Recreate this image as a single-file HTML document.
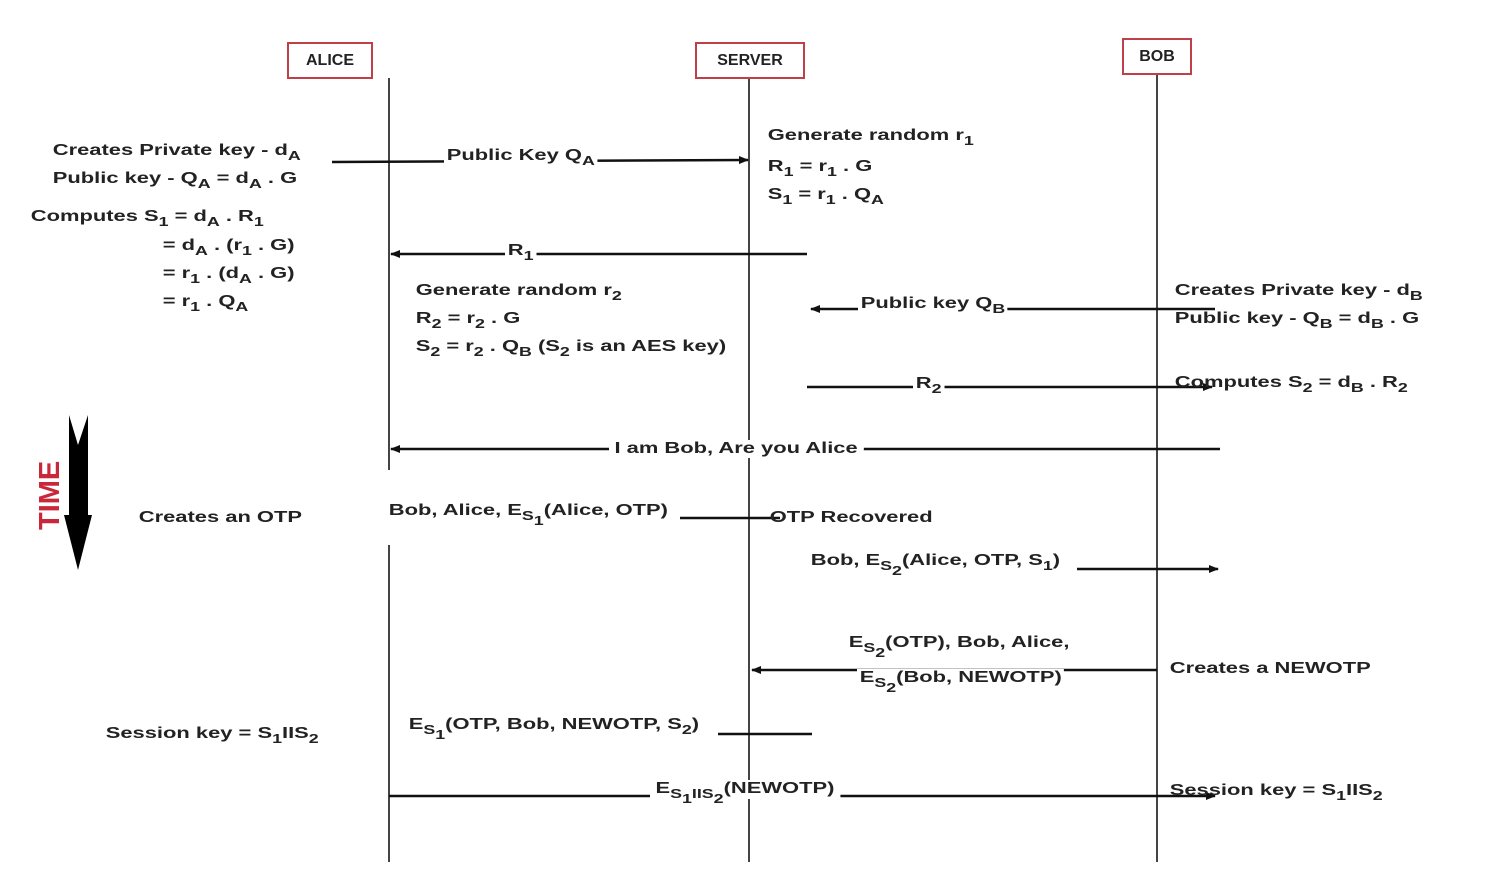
<!DOCTYPE html>
<html><head><meta charset="utf-8"><style>
body{margin:0;background:#fff;}
#c{position:relative;width:1493px;height:876px;overflow:hidden;font-family:"Liberation Sans",sans-serif;font-weight:bold;font-size:16px;color:#222;}
.t{position:absolute;white-space:nowrap;line-height:18px;background:#fff;padding:0 2px;transform:scaleX(1.37);transform-origin:0 0;}
.t sub{font-size:13px;vertical-align:-5px;line-height:0;}
.box{position:absolute;border:2px solid #c0404a;background:#fff;text-align:center;font-size:16px;}
</style></head><body><div id="c">
<svg width="1493" height="876" style="position:absolute;left:0;top:0">
<defs><marker id="a" markerWidth="10" markerHeight="8" refX="9" refY="4" orient="auto" markerUnits="userSpaceOnUse"><path d="M0,0 L10,4 L0,8 Z" fill="#111"/></marker></defs>
<g stroke="#444" stroke-width="2">
<line x1="389" y1="78" x2="389" y2="862"/>
<line x1="749" y1="78" x2="749" y2="862"/>
<line x1="1157" y1="75" x2="1157" y2="862"/>
</g>
<g stroke="#111" stroke-width="2.5" fill="none">
<line x1="332" y1="162" x2="748" y2="160" marker-end="url(#a)"/>
<line x1="807" y1="254" x2="391" y2="254" marker-end="url(#a)"/>
<line x1="1215" y1="309" x2="811" y2="309" marker-end="url(#a)"/>
<line x1="807" y1="387" x2="1212" y2="387" marker-end="url(#a)"/>
<line x1="1220" y1="449" x2="391" y2="449" marker-end="url(#a)"/>
<line x1="680" y1="518" x2="780" y2="518"/>
<line x1="1077" y1="569" x2="1218" y2="569" marker-end="url(#a)"/>
<line x1="1157" y1="670" x2="752" y2="670" marker-end="url(#a)"/>
<line x1="718" y1="734" x2="812" y2="734"/>
<line x1="389" y1="796" x2="1215" y2="796" marker-end="url(#a)"/>
</g>
<path d="M69,415 L78,445 L88,415 L88,515 L92,515 L78,570 L64,515 L69,515 Z" fill="#000"/>
<text transform="translate(59,530) rotate(-90)" font-family="Liberation Sans" font-weight="bold" font-size="29" fill="#c8283a">TIME</text>
<rect x="380" y="470" width="18" height="75" fill="#fff"/>
</svg>
<div class="box" style="left:287px;top:42px;width:82px;height:33px;line-height:33px">ALICE</div>
<div class="box" style="left:695px;top:42px;width:106px;height:33px;line-height:33px">SERVER</div>
<div class="box" style="left:1122px;top:38px;width:66px;height:33px;line-height:33px">BOB</div>

<div class="t" style="left:50px;top:142px">Creates Private key - d<sub>A</sub></div>
<div class="t" style="left:50px;top:170px">Public key - Q<sub>A</sub> = d<sub>A</sub> . G</div>
<div class="t" style="left:28px;top:208px">Computes S<sub>1</sub> = d<sub>A</sub> . R<sub>1</sub></div>
<div class="t" style="left:160px;top:237px">= d<sub>A</sub> . (r<sub>1</sub> . G)</div>
<div class="t" style="left:160px;top:265px">= r<sub>1</sub> . (d<sub>A</sub> . G)</div>
<div class="t" style="left:160px;top:293px">= r<sub>1</sub> . Q<sub>A</sub></div>

<div class="t" style="left:444px;top:147px">Public Key Q<sub>A</sub></div>
<div class="t" style="left:765px;top:127px;background:none">Generate random r<sub>1</sub></div>
<div class="t" style="left:765px;top:158px;background:none">R<sub>1</sub> = r<sub>1</sub> . G</div>
<div class="t" style="left:765px;top:186px;background:none">S<sub>1</sub> = r<sub>1</sub> . Q<sub>A</sub></div>
<div class="t" style="left:505px;top:242px">R<sub>1</sub></div>
<div class="t" style="left:413px;top:282px;background:none">Generate random r<sub>2</sub></div>
<div class="t" style="left:413px;top:310px;background:none">R<sub>2</sub> = r<sub>2</sub> . G</div>
<div class="t" style="left:413px;top:338px;background:none">S<sub>2</sub> = r<sub>2</sub> . Q<sub>B</sub> (S<sub>2</sub> is an AES key)</div>

<div class="t" style="left:858px;top:295px">Public key Q<sub>B</sub></div>
<div class="t" style="left:1172px;top:282px;background:none">Creates Private key - d<sub>B</sub></div>
<div class="t" style="left:1172px;top:310px;background:none">Public key - Q<sub>B</sub> = d<sub>B</sub> . G</div>
<div class="t" style="left:913px;top:375px">R<sub>2</sub></div>
<div class="t" style="left:1172px;top:374px;background:none">Computes S<sub>2</sub> = d<sub>B</sub> . R<sub>2</sub></div>

<div class="t" style="left:609px;top:440px;padding:0 4px">I am Bob, Are you Alice</div>
<div class="t" style="left:136px;top:509px">Creates an OTP</div>
<div class="t" style="left:386px;top:502px">Bob, Alice, E<sub>S<sub>1</sub></sub>(Alice, OTP)</div>
<div class="t" style="left:767px;top:509px;background:none">OTP Recovered</div>
<div class="t" style="left:808px;top:552px">Bob, E<sub>S<sub>2</sub></sub>(Alice, OTP, S<sub>1</sub>)</div>
<div class="t" style="left:846px;top:634px">E<sub>S<sub>2</sub></sub>(OTP), Bob, Alice,</div>
<div class="t" style="left:857px;top:669px">E<sub>S<sub>2</sub></sub>(Bob, NEWOTP)</div>
<div class="t" style="left:1167px;top:660px">Creates a NEWOTP</div>
<div class="t" style="left:103px;top:725px">Session key = S<sub>1</sub>IIS<sub>2</sub></div>
<div class="t" style="left:406px;top:716px">E<sub>S<sub>1</sub></sub>(OTP, Bob, NEWOTP, S<sub>2</sub>)</div>
<div class="t" style="left:650px;top:780px;padding:0 4px">E<sub>S<sub>1</sub>IIS<sub>2</sub></sub>(NEWOTP)</div>
<div class="t" style="left:1167px;top:782px;background:none">Session key = S<sub>1</sub>IIS<sub>2</sub></div>
</div></body></html>
